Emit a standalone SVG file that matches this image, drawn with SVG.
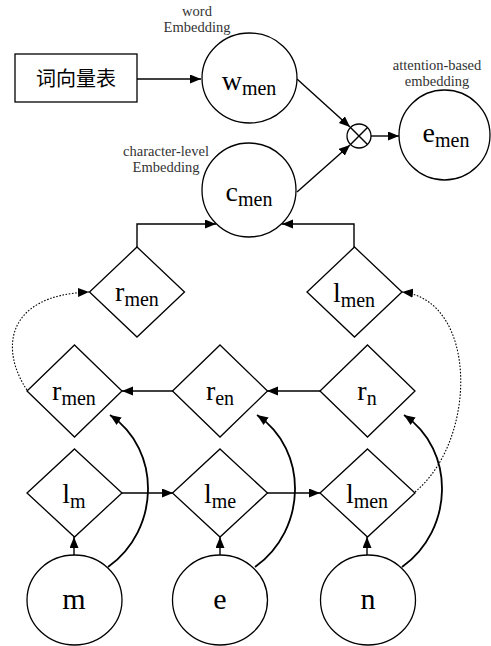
<svg xmlns="http://www.w3.org/2000/svg" width="491" height="646" viewBox="0 0 491 646">
<defs>
<marker id="ah" markerUnits="userSpaceOnUse" markerWidth="12" markerHeight="10" refX="11" refY="4.5" orient="auto">
<path d="M0,0 L11,4.5 L0,9 z" fill="#000"/>
</marker>
<style>
.sh{fill:#fff;stroke:#000;stroke-width:1.3}
.ln{fill:none;stroke:#000;stroke-width:1.4}
.cv{fill:none;stroke:#000;stroke-width:1.8}
.dt{fill:none;stroke:#000;stroke-width:1.1;stroke-dasharray:1.6 1.6}
.t{font-family:"Liberation Serif","Times New Roman",serif;font-size:28px;fill:#000;text-anchor:middle}
.s{font-size:20px}
.lb{font-family:"Liberation Serif","Times New Roman",serif;font-size:14.5px;fill:#333;text-anchor:middle}
.cn{font-family:"Noto Sans CJK SC",sans-serif;font-size:20px;fill:#000;text-anchor:middle}
</style>
</defs>
<rect width="491" height="646" fill="#fff"/>

<g id="connectors">
<line class="ln" x1="137" y1="79" x2="201" y2="79" marker-end="url(#ah)"/>
<line class="ln" x1="297" y1="79" x2="350" y2="127" marker-end="url(#ah)"/>
<line class="ln" x1="297" y1="192" x2="350" y2="145" marker-end="url(#ah)"/>
<line class="ln" x1="371" y1="136" x2="399" y2="136" marker-end="url(#ah)"/>
<polyline class="ln" points="137,247 137,224 216,224" marker-end="url(#ah)"/>
<polyline class="ln" points="354,247 354,224 282,224" marker-end="url(#ah)"/>
<line class="ln" x1="320" y1="391" x2="267" y2="391" marker-end="url(#ah)"/>
<line class="ln" x1="173" y1="391" x2="122" y2="391" marker-end="url(#ah)"/>
<line class="ln" x1="122" y1="493" x2="173" y2="493" marker-end="url(#ah)"/>
<line class="ln" x1="267" y1="493" x2="320" y2="493" marker-end="url(#ah)"/>
<line class="ln" x1="74" y1="555" x2="74" y2="537" marker-end="url(#ah)"/>
<line class="ln" x1="220" y1="555" x2="220" y2="537" marker-end="url(#ah)"/>
<line class="ln" x1="367" y1="555" x2="367" y2="537" marker-end="url(#ah)"/>
<path class="cv" d="M108,567 C160,530 162,450 110,415" marker-end="url(#ah)"/>
<path class="cv" d="M255,567 C307,530 309,450 257,415" marker-end="url(#ah)"/>
<path class="cv" d="M402,567 C454,530 456,450 404,415" marker-end="url(#ah)"/>
<path class="dt" d="M27,390 C0,350 5,295 89,292" marker-end="url(#ah)"/>
<path class="dt" d="M415,492 C478,440 478,300 402,292" marker-end="url(#ah)"/>
</g>

<g id="vocab">
<rect class="sh" x="15" y="54" width="122" height="48"/>
<text class="cn" x="76" y="86">词向量表</text>
</g>

<g id="w_men">
<ellipse class="sh" cx="249.5" cy="78" rx="47.5" ry="45"/>
<text class="t" x="249" y="90">w<tspan class="s" dy="5">men</tspan></text>
<text class="lb" x="197" y="16">word</text>
<text class="lb" x="197" y="32">Embedding</text>
</g>

<g id="otimes">
<circle class="sh" cx="359" cy="136" r="12"/>
<line class="ln" x1="350.5" y1="127.5" x2="367.5" y2="144.5"/>
<line class="ln" x1="367.5" y1="127.5" x2="350.5" y2="144.5"/>
</g>

<g id="e_men">
<ellipse class="sh" cx="444.5" cy="135" rx="45.5" ry="45"/>
<text class="t" x="446" y="142">e<tspan class="s" dy="5">men</tspan></text>
<text class="lb" x="437" y="70">attention-based</text>
<text class="lb" x="437" y="86">embedding</text>
</g>

<g id="c_men">
<ellipse class="sh" cx="249" cy="190" rx="47" ry="47"/>
<text class="t" x="249" y="201">c<tspan class="s" dy="5">men</tspan></text>
<text class="lb" x="166" y="156">character-level</text>
<text class="lb" x="166" y="172">Embedding</text>
</g>

<g id="r_men_top">
<polygon class="sh" points="137,247 184.5,292 137,337 89.5,292"/>
<text class="t" x="137" y="301">r<tspan class="s" dy="5">men</tspan></text>
</g>

<g id="l_men_top">
<polygon class="sh" points="354.5,247 402,292 354.5,337 307,292"/>
<text class="t" x="354" y="302">l<tspan class="s" dy="5">men</tspan></text>
</g>

<g id="r_men">
<polygon class="sh" points="74.5,345 122,391 74.5,437 27,391"/>
<text class="t" x="74" y="400">r<tspan class="s" dy="5">men</tspan></text>
</g>

<g id="r_en">
<polygon class="sh" points="220,345 267.5,391 220,437 172.5,391"/>
<text class="t" x="220" y="400">r<tspan class="s" dy="5">en</tspan></text>
</g>

<g id="r_n">
<polygon class="sh" points="367.5,345 415,391 367.5,437 320,391"/>
<text class="t" x="367" y="400">r<tspan class="s" dy="5">n</tspan></text>
</g>

<g id="l_m">
<polygon class="sh" points="74.5,449 122,493 74.5,537 27,493"/>
<text class="t" x="74" y="503">l<tspan class="s" dy="5">m</tspan></text>
</g>

<g id="l_me">
<polygon class="sh" points="220,449 267.5,493 220,537 172.5,493"/>
<text class="t" x="220" y="503">l<tspan class="s" dy="5">me</tspan></text>
</g>

<g id="l_men">
<polygon class="sh" points="367.5,449 415,493 367.5,537 320,493"/>
<text class="t" x="367" y="503">l<tspan class="s" dy="5">men</tspan></text>
</g>

<g id="m">
<ellipse class="sh" cx="74.5" cy="600" rx="47.5" ry="45"/>
<text class="t" x="74" y="609" style="font-size:30px">m</text>
</g>

<g id="e">
<ellipse class="sh" cx="220" cy="600" rx="47.5" ry="45"/>
<text class="t" x="220" y="609" style="font-size:30px">e</text>
</g>

<g id="n">
<ellipse class="sh" cx="368" cy="600" rx="47.5" ry="45"/>
<text class="t" x="368" y="609" style="font-size:30px">n</text>
</g>
</svg>
